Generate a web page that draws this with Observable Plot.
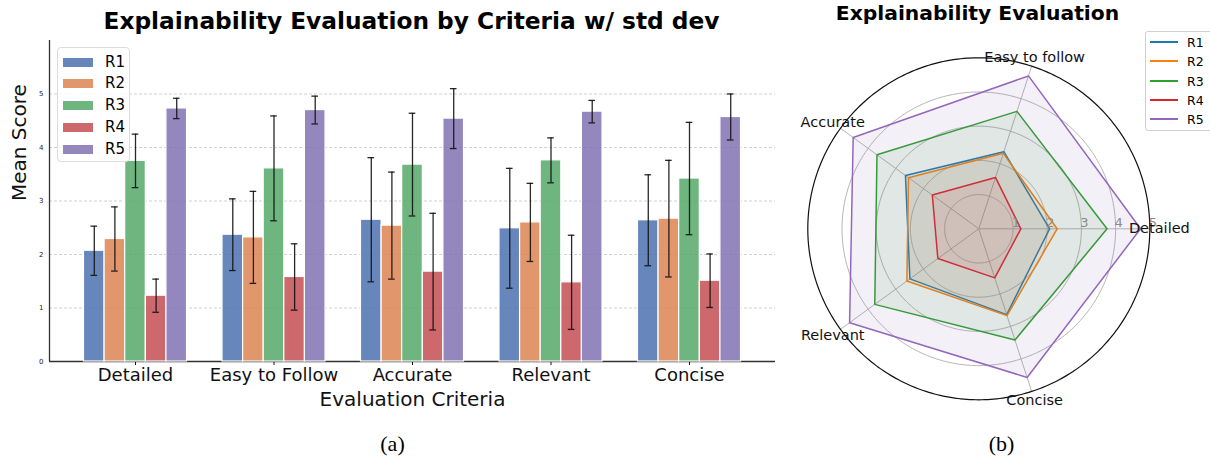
<!DOCTYPE html>
<html><head><meta charset="utf-8">
<script src="https://cdn.jsdelivr.net/npm/d3@7"></script>
<script src="https://cdn.jsdelivr.net/npm/@observablehq/plot@0.6"></script>
<style>
html,body{margin:0;padding:0;background:#fff;}
#root{position:relative;width:1210px;height:459px;overflow:hidden;font-family:"DejaVu Sans",sans-serif;background:#fff;}
#root > *{position:absolute;}
.lbl{white-space:nowrap;line-height:1;transform:translate(-50%,-50%);color:#000;}
</style></head><body><div id="root"></div>
<script>
// ---------------- data ----------------
const criteria = ["Detailed", "Easy to Follow", "Accurate", "Relevant", "Concise"];
const criteriaRadar = ["Detailed", "Easy to follow", "Accurate", "Relevant", "Concise"];
const series = ["R1", "R2", "R3", "R4", "R5"];
const meanR1 = [2.07, 2.37, 2.65, 2.49, 2.64];
const meanR2 = [2.29, 2.32, 2.54, 2.60, 2.67];
const meanR3 = [3.75, 3.61, 3.68, 3.76, 3.42];
const meanR4 = [1.23, 1.58, 1.68, 1.48, 1.51];
const meanR5 = [4.73, 4.70, 4.54, 4.67, 4.57];
const sdR1 = [0.46, 0.67, 1.16, 1.12, 0.85];
const sdR2 = [0.60, 0.86, 1.00, 0.73, 1.09];
const sdR3 = [0.50, 0.98, 0.96, 0.42, 1.05];
const sdR4 = [0.31, 0.62, 1.09, 0.88, 0.50];
const sdR5 = [0.19, 0.26, 0.56, 0.21, 0.43];
const yTicks = [0, 1, 2, 3, 4, 5];
const radarTicks = [1, 2, 3, 4, 5];
const barColors = ["#4c72b0", "#dd8452", "#55a868", "#c44e52", "#8172b3"];
const radarColors = ["#1f77b4", "#ff7f0e", "#2ca02c", "#d62728", "#9467bd"];

const means = [meanR1, meanR2, meanR3, meanR4, meanR5];
const sds = [sdR1, sdR2, sdR3, sdR4, sdR5];
const barRows = criteria.flatMap((c, ci) => series.map((s, si) => ({criterion: c, series: s, mean: means[si][ci], sd: sds[si][ci]})));
const radarRows = series.flatMap((s, si) => criteriaRadar.map((c, ci) => ({series: s, ci, value: means[si][ci]})));

const root = document.getElementById("root");
const FONT = '"DejaVu Sans", sans-serif';

// ---------------- bar chart: background (axes, grid, labels) ----------------
const common = {width: 780, height: 425, marginLeft: 49, marginRight: 5, marginTop: 40, marginBottom: 64};
const bg = Plot.plot({
  ...common,
  x: {domain: [0, 1], axis: null},
  y: {domain: [0, 6], ticks: yTicks, tickSize: 0, tickPadding: 6, label: null, axis: "left", tickFormat: d3.format("d")},
  style: {fontFamily: FONT, fontSize: "7px", color: "#222", background: "white"},
  marks: [
    Plot.ruleY(yTicks.filter(t => t > 0), {stroke: "#c4c4c4", strokeDasharray: "3,2", strokeWidth: 0.8}),
    Plot.ruleY([0], {stroke: "#333", strokeWidth: 1.3}),
    Plot.ruleX([0], {stroke: "#333", strokeWidth: 1.3}),
    Plot.text(["Mean Score"], {text: d => d, frameAnchor: "left", rotate: -90, dx: -30, fontSize: 20, fill: "#111"}),
    Plot.text(["Evaluation Criteria"], {text: d => d, frameAnchor: "bottom", dy: 44, fontSize: 20, fill: "#111"})
  ]
});
bg.style.left = "0px"; bg.style.top = "0px";
root.appendChild(bg);

// ---------------- bar chart: bars & error bars ----------------
const fg = Plot.plot({
  ...common,
  fx: {domain: criteria, paddingInner: 0.256, paddingOuter: 0.249, round: false, axis: "bottom", label: null, tickSize: 4, tickPadding: 3},
  x: {domain: series, padding: 0, round: false, axis: null},
  y: {domain: [0, 6], axis: null},
  color: {domain: series, range: barColors},
  style: {fontFamily: FONT, fontSize: "18px", color: "#111", background: "transparent"},
  marks: [
    Plot.barY(barRows, {fx: "criterion", x: "series", y: "mean", fill: "series", fillOpacity: 0.85, stroke: "white", strokeWidth: 1.2}),
    Plot.ruleX(barRows, {fx: "criterion", x: "series", y1: d => d.mean - d.sd, y2: d => d.mean + d.sd, stroke: "#111", strokeWidth: 1.3, strokeOpacity: 0.9}),
    Plot.tickY(barRows, {fx: "criterion", x: "series", y: d => d.mean + d.sd, insetLeft: 7, insetRight: 7, stroke: "#111", strokeWidth: 1.3, strokeOpacity: 0.9}),
    Plot.tickY(barRows, {fx: "criterion", x: "series", y: d => d.mean - d.sd, insetLeft: 7, insetRight: 7, stroke: "#111", strokeWidth: 1.3, strokeOpacity: 0.9})
  ]
});
fg.style.left = "0px"; fg.style.top = "0px";
root.appendChild(fg);

// ---------------- radar chart ----------------
const S = 10; // degrees per score unit
const lon = i => 90 + 72 * i;
const circle = r => d3.geoCircle().center([0, 90]).radius(r * S).precision(1)();
const radar = Plot.plot({
  width: 430, height: 459,
  marginLeft: 2.3, marginRight: 35.7, marginTop: 32.3, marginBottom: 34.7,
  projection: {type: "azimuthal-equidistant", rotate: [0, -90], domain: circle(5), inset: 25},
  color: {domain: series, range: radarColors},
  style: {fontFamily: FONT, background: "transparent", overflow: "visible"},
  marks: [
    Plot.geo(radarTicks.slice(0, -1), {geometry: circle, stroke: "#b5b5b5", fill: "none", strokeWidth: 1}),
    Plot.link(criteriaRadar, {x1: (d, i) => lon(i), y1: 90 - 5 * S, x2: (d, i) => lon(i), y2: 90, stroke: "#b5b5b5", strokeWidth: 1}),
    Plot.line(radarRows, {x: d => lon(d.ci), y: d => 90 - d.value * S, z: "series", stroke: "series", fill: "series", fillOpacity: 0.1, strokeWidth: 1.5, curve: "linear-closed"}),
    Plot.geo([5], {geometry: circle, stroke: "#111", fill: "none", strokeWidth: 1.2}),
    Plot.text(radarTicks, {x: 90, y: d => 90 - d * S, text: d => String(d), dx: 3, dy: -6, fill: "#8a8a8a", fontSize: 13}),
    Plot.text(criteriaRadar, {x: (d, i) => lon(i), y: 90 - 5.28 * S, text: d => d, fontSize: 14.5, fill: "#111"})
  ]
});
radar.style.left = "780px"; radar.style.top = "0px";
root.appendChild(radar);

// ---------------- html text / legends ----------------
function label(txt, x, y, css) {
  const d = document.createElement("div");
  d.className = "lbl";
  d.textContent = txt;
  d.style.left = x + "px"; d.style.top = y + "px";
  Object.assign(d.style, css || {});
  root.appendChild(d);
  return d;
}
label("Explainability Evaluation by Criteria w/ std dev", 411.5, 20.5, {fontSize: "23.3px", fontWeight: "bold"});
label("Explainability Evaluation", 977.5, 12.5, {fontSize: "20.3px", fontWeight: "bold"});
label("(a)", 392.5, 444, {fontSize: "22px", fontFamily: '"Liberation Serif", serif'});
label("(b)", 1001.5, 444, {fontSize: "22px", fontFamily: '"Liberation Serif", serif'});

// bar legend
const leg1 = document.createElement("div");
Object.assign(leg1.style, {left: "57px", top: "47px", width: "73px", height: "115px", border: "1px solid #dcdcdc", borderRadius: "4px", background: "rgba(255,255,255,0.85)", boxSizing: "border-box"});
root.appendChild(leg1);
series.forEach((s, i) => {
  const cy = 14 + 21.9 * i;
  const p = document.createElement("div");
  Object.assign(p.style, {position: "absolute", left: "5px", top: (cy - 4.5) + "px", width: "29.5px", height: "9px", background: barColors[i], opacity: 0.85});
  leg1.appendChild(p);
  const t = document.createElement("div");
  t.textContent = s;
  Object.assign(t.style, {position: "absolute", left: "47px", top: (cy - 7.5) + "px", fontSize: "15px", lineHeight: "15px", color: "#000"});
  leg1.appendChild(t);
});

// radar legend
const leg2 = document.createElement("div");
Object.assign(leg2.style, {left: "1145px", top: "31px", width: "72px", height: "100px", border: "1px solid #d0d0d0", borderRadius: "3px", background: "rgba(255,255,255,0.85)", boxSizing: "border-box"});
root.appendChild(leg2);
series.forEach((s, i) => {
  const cy = Math.round(10.2 + 19.25 * i);
  const p = document.createElement("div");
  Object.assign(p.style, {position: "absolute", left: "4px", top: (cy - 1) + "px", width: "28px", height: "2px", background: radarColors[i]});
  leg2.appendChild(p);
  const t = document.createElement("div");
  t.textContent = s;
  Object.assign(t.style, {position: "absolute", left: "41px", top: (cy - 6.5) + "px", fontSize: "12.5px", lineHeight: "13px", color: "#000"});
  leg2.appendChild(t);
});
</script></body></html>
